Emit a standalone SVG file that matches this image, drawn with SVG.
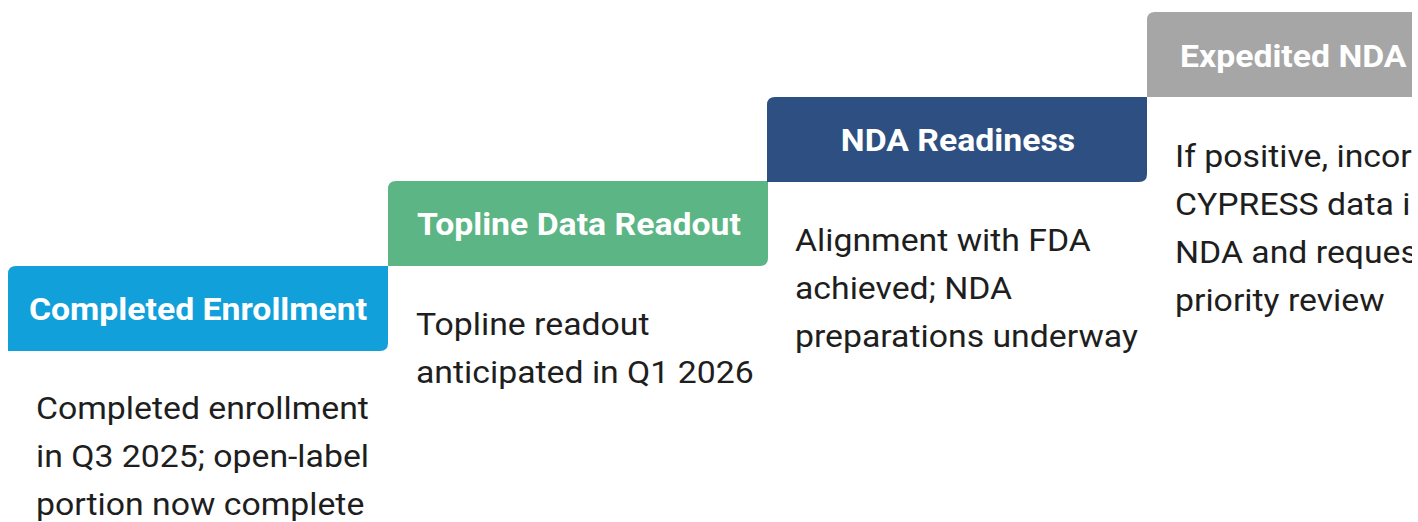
<svg xmlns="http://www.w3.org/2000/svg" width="1418" height="522" viewBox="0 0 1418 522">
  <defs>
    <style>
      .hdr { font-family: Roboto, "Liberation Sans", sans-serif; font-weight: 700; font-size: 31px; fill: #ffffff; text-anchor: middle; }
      .body { font-family: Roboto, "Liberation Sans", sans-serif; font-weight: 400; font-size: 31px; fill: #1e1e1e; }
    </style>
    <clipPath id="frame">
      <rect x="0" y="0" width="1412" height="522"/>
    </clipPath>
  </defs>
  <rect width="1418" height="522" fill="#ffffff"/>
  <g clip-path="url(#frame)">
    <!-- Step 1 -->
    <g id="step-enrollment">
      <path d="M8,274 Q8,266 16,266 L388,266 L388,343 Q388,351 380,351 L8,351 Z" fill="#12a0da"/>
      <text class="hdr" transform="translate(198,320) scale(1.09,1)">Completed Enrollment</text>
      <text class="body" transform="translate(36,419) scale(1.09,1)">Completed enrollment</text>
      <text class="body" transform="translate(36,467) scale(1.09,1)">in Q3 2025; open-label</text>
      <text class="body" transform="translate(36,515) scale(1.09,1)">portion now complete</text>
    </g>
    <!-- Step 2 -->
    <g id="step-topline">
      <path d="M388,189 Q388,181 396,181 L768,181 L768,258 Q768,266 760,266 L388,266 Z" fill="#5bb584"/>
      <text class="hdr" transform="translate(579,235) scale(1.09,1)">Topline Data Readout</text>
      <text class="body" transform="translate(416,335) scale(1.09,1)">Topline readout</text>
      <text class="body" transform="translate(416,383) scale(1.09,1)">anticipated in Q1 2026</text>
    </g>
    <!-- Step 3 -->
    <g id="step-nda-readiness">
      <path d="M767,105 Q767,97 775,97 L1147,97 L1147,174 Q1147,182 1139,182 L767,182 Z" fill="#2e4f81"/>
      <text class="hdr" transform="translate(958,151) scale(1.09,1)">NDA Readiness</text>
      <text class="body" transform="translate(795,251) scale(1.09,1)">Alignment with FDA</text>
      <text class="body" transform="translate(795,299) scale(1.09,1)">achieved; NDA</text>
      <text class="body" transform="translate(795,347) scale(1.09,1)">preparations underway</text>
    </g>
    <!-- Step 4 (runs past the right edge) -->
    <g id="step-expedited-nda">
      <path d="M1147,20 Q1147,12 1155,12 L1412,12 L1412,97 L1147,97 Z" fill="#a6a6a6"/>
      <text class="hdr" transform="translate(1180,67) scale(1.09,1)" style="text-anchor:start">Expedited NDA</text>
      <text class="body" transform="translate(1175,167) scale(1.09,1)">If positive, incor</text>
      <text class="body" transform="translate(1175,215) scale(1.09,1)">CYPRESS data i</text>
      <text class="body" transform="translate(1175,263) scale(1.09,1)">NDA and reques</text>
      <text class="body" transform="translate(1175,311) scale(1.09,1)">priority review</text>
    </g>
  </g>
  <g id="connectors"/>
</svg>
